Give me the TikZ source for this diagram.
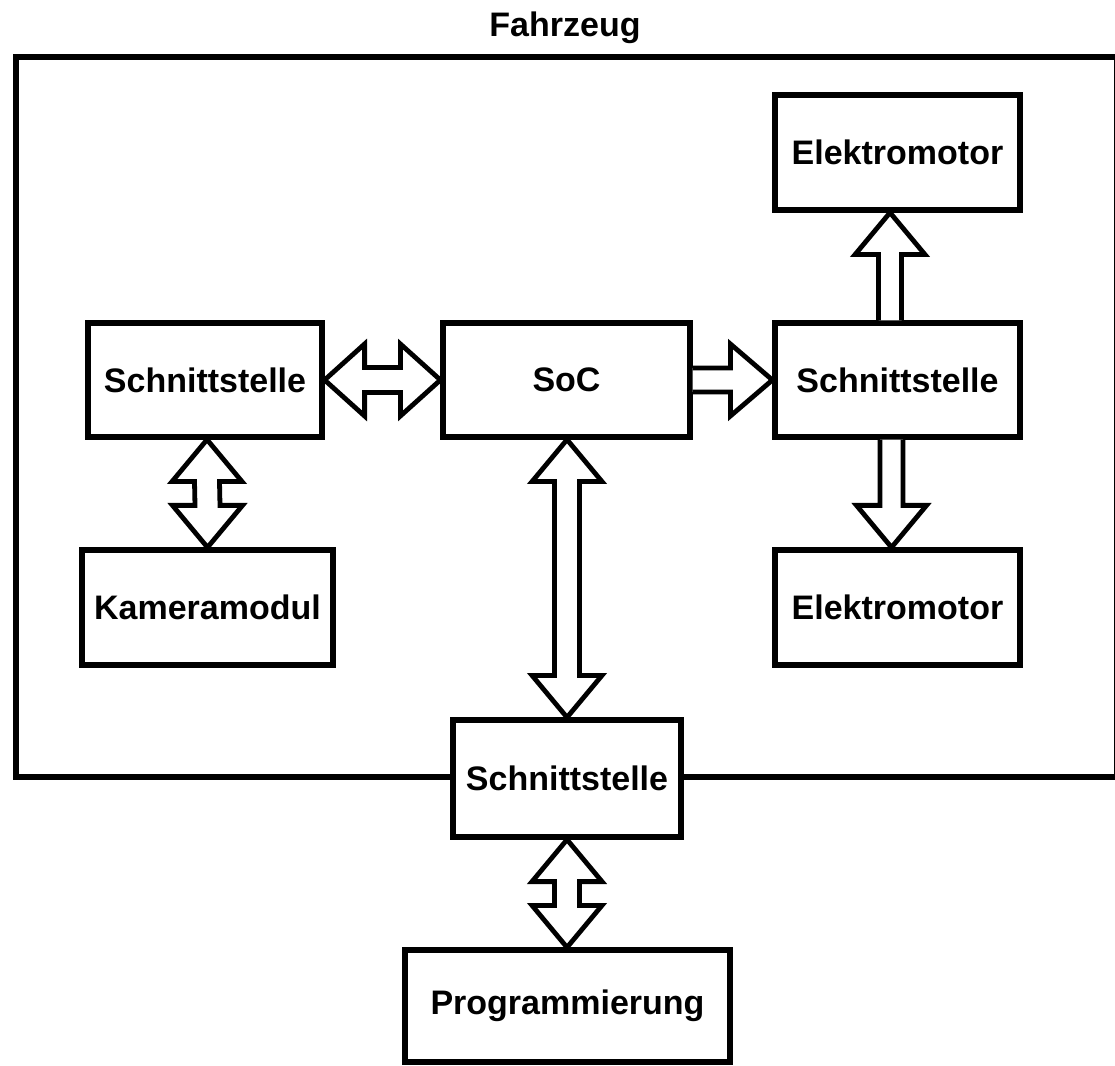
\documentclass[tikz,border=0pt]{standalone}
\usepackage{fontspec}
\setmainfont{Liberation Sans}
\usetikzlibrary{calc}
\tikzset{
  blk/.style={draw=black, line width=3.9pt, fill=white, inner sep=0pt,
    font=\fontsize{25.5}{30}\selectfont\bfseries},
  fat/.style={draw=black, line width=3.6pt, fill=white, line join=miter},
  outer/.style={draw=black, line width=3.9pt}
}
% horizontal double arrow between coordinates #1 (left tip) and #2 (right tip)
\newcommand{\dblarrowH}[2]{%
  \draw[fat] (#1) -- ++(40,-36) -- ++(0,23.5) -- ($(#2)+(-40,-12.5)$) -- ++(0,-23.5)
    -- (#2) -- ++(-40,36) -- ++(0,-23.5) -- ($(#1)+(40,12.5)$) -- ++(0,23.5) -- cycle;}
% vertical double arrow between #1 (top tip) and #2 (bottom tip)
\newcommand{\dblarrowV}[2]{%
  \draw[fat] (#1) -- ++(35,42) -- ++(-22.5,0) -- ($(#2)+(12.5,-42)$) -- ++(22.5,0)
    -- (#2) -- ++(-35,-42) -- ++(22.5,0) -- ($(#1)+(-12.5,42)$) -- ++(-22.5,0) -- cycle;}
% horizontal single arrow: shaft starts at #1, tip at #2
\newcommand{\sglarrowH}[2]{%
  \draw[fat] ($(#1)+(0,-12)$) -- ($(#2)+(-42,-12)$) -- ++(0,-24) -- (#2)
    -- ++(-42,36) -- ++(0,-24) -- ($(#1)+(0,12)$);}
% vertical single arrow: shaft starts at #1, tip at #2 (up)
\newcommand{\sglarrowUp}[2]{%
  \draw[fat] ($(#1)+(-11.5,0)$) -- ($(#2)+(-11.5,42)$) -- ++(-23.5,0) -- (#2)
    -- ++(35,42) -- ++(-23.5,0) -- ($(#1)+(11.5,0)$);}
% vertical single arrow: shaft starts at #1, tip at #2 (down)
\newcommand{\sglarrowDown}[2]{%
  \draw[fat] ($(#1)+(-11.5,0)$) -- ($(#2)+(-11.5,-42)$) -- ++(-23.5,0) -- (#2)
    -- ++(35,-42) -- ++(-23.5,0) -- ($(#1)+(11.5,0)$);}
\begin{document}
\begin{tikzpicture}[x=0.75pt,y=-0.75pt]
\useasboundingbox (0,0) rectangle (1115,1066);
\fill[white] (0,0) rectangle (1115,1066);
% outer frame
\draw[outer] (16,57) rectangle (1117,777);
\node[font=\fontsize{25.5}{30}\selectfont\bfseries] (title) at (565,28) {Fahrzeug};
% blocks
\node[blk, minimum width=234*0.75pt, minimum height=114*0.75pt] (sl) at (205,380) {Schnittstelle};
\node[blk, minimum width=247*0.75pt, minimum height=114*0.75pt] (soc) at (566.5,380) {SoC};
\node[blk, minimum width=245*0.75pt, minimum height=114*0.75pt] (sr) at (897.5,380) {Schnittstelle};
\node[blk, minimum width=245*0.75pt, minimum height=115*0.75pt] (em1) at (897.5,152.5) {Elektromotor};
\node[blk, minimum width=245*0.75pt, minimum height=115*0.75pt] (em2) at (897.5,607.5) {Elektromotor};
\node[blk, minimum width=251*0.75pt, minimum height=115*0.75pt] (km) at (207.5,607.5) {Kameramodul};
\node[blk, minimum width=228*0.75pt, minimum height=117*0.75pt] (sb) at (567,778.5) {Schnittstelle};
\node[blk, minimum width=325*0.75pt, minimum height=112*0.75pt] (prog) at (567.5,1006) {Programmierung};
% arrows
\dblarrowH{sl.east}{soc.west}
\sglarrowH{soc.east}{sr.west}
\coordinate (u1) at ($(sr.north)+(-7.5,0)$);
\coordinate (u2) at ($(em1.south)+(-7.5,0)$);
\sglarrowUp{u1}{u2}
\coordinate (d1) at ($(sr.south)+(-6,0)$);
\coordinate (d2) at ($(em2.north)+(-6,0)$);
\sglarrowDown{d1}{d2}
\coordinate (k1) at ($(sl.south)+(2,0)$);
\coordinate (k2) at ($(km.north)+(0,0)$);
\dblarrowV{k1}{k2}
\coordinate (s1) at ($(soc.south)+(0.5,0)$);
\coordinate (s2) at ($(sb.north)+(0,0)$);
\dblarrowV{s1}{s2}
\coordinate (p1) at ($(sb.south)+(0,0)$);
\coordinate (p2) at ($(prog.north)+(-0.5,0)$);
\dblarrowV{p1}{p2}
\end{tikzpicture}
\end{document}
